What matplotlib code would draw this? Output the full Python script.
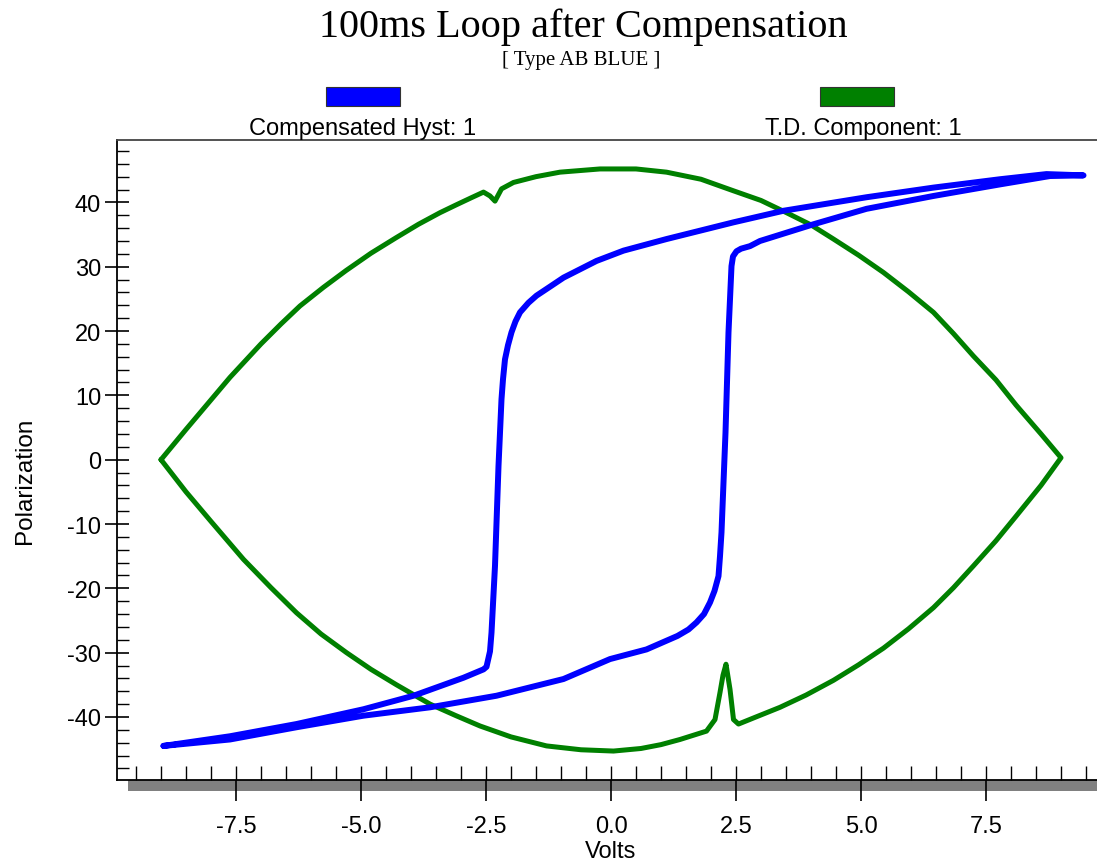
import matplotlib
matplotlib.use("Agg")
import matplotlib.pyplot as plt
from matplotlib.patches import Rectangle
from matplotlib.ticker import MultipleLocator, FormatStrFormatter

plt.rcParams["axes.unicode_minus"] = False

# compensated hysteresis loop (blue), rising branch then falling branch
hyst_up_v = [-8.95, -7.62, -6.29, -4.95, -3.62, -2.29, -0.95, -0.02, 0.71, 1.33, 1.55,
             1.71, 1.86, 1.98, 2.07, 2.15, 2.18, 2.21, 2.29, 2.35, 2.41, 2.44, 2.51, 2.6,
             2.78, 2.98, 4.05, 5.11, 6.45, 7.78, 8.78, 9.45]
hyst_up_p = [-44.5, -43.5, -41.6, -39.8, -38.5, -36.7, -34.1, -31.0, -29.5, -27.4, -26.4,
             -25.3, -24.0, -22.2, -20.4, -18.1, -15.0, -11.3, 4.2, 19.8, 30.1, 31.6, 32.4,
             32.8, 33.2, 34.0, 36.6, 39.0, 41.0, 42.8, 44.1, 44.2]
hyst_down_v = [9.45, 8.71, 7.78, 6.45, 5.11, 3.45, 2.45, 1.11, 0.25, -0.29, -0.95, -1.2,
               -1.49, -1.65, -1.82, -1.91, -1.99, -2.06, -2.12, -2.16, -2.19, -2.25, -2.32,
               -2.39, -2.42, -2.49, -2.55, -2.95, -3.95, -4.95, -6.29, -7.62, -8.95]
hyst_down_p = [44.2, 44.4, 43.6, 42.3, 40.8, 38.7, 36.9, 34.3, 32.5, 30.9, 28.3, 27.0,
               25.5, 24.4, 22.9, 21.5, 19.8, 17.8, 15.6, 12.5, 9.4, -1.0, -16.5,
               -26.9, -29.8, -32.2, -32.6, -33.9, -36.7, -38.8, -41.1, -43.0, -44.5]

# time domain component (green), upper branch then lower branch
td_up_v = [-9.0, -8.5, -8.0, -7.62, -7.0, -6.6, -6.22, -5.75, -5.3, -4.8, -4.3, -3.85,
           -3.42, -3.1, -2.8, -2.55, -2.42, -2.32, -2.19, -1.95, -1.5, -1.02, -0.22, 0.5,
           1.11, 1.8, 2.45, 3.0, 3.51, 4.0, 4.45, 4.95, 5.45, 5.95, 6.45, 6.85, 7.25, 7.7,
           8.1, 8.6, 9.0]
td_up_p = [0.0, 4.7, 9.3, 12.8, 18.0, 21.1, 23.9, 26.8, 29.4, 32.1, 34.5, 36.6,
           38.4, 39.6, 40.7, 41.6, 41.0, 40.2, 42.1, 43.1, 44.0, 44.7, 45.2, 45.2,
           44.7, 43.6, 41.8, 40.3, 38.4, 36.5, 34.3, 31.8, 29.1, 26.1, 22.9, 19.6, 16.1, 12.4,
           8.5, 4.0, 0.3]
td_down_v = [9.0, 8.6, 8.1, 7.7, 7.25, 6.85, 6.45, 5.95, 5.45, 4.95, 4.45, 3.9, 3.38, 2.9,
             2.55, 2.45, 2.38, 2.30, 2.24, 2.18, 2.08, 1.91, 1.38, 1.0, 0.6, 0.05, -0.6,
             -1.29, -2.0, -2.62, -3.1, -3.62, -4.29, -4.8, -5.29, -5.8, -6.29, -6.8, -7.35,
             -8.0, -8.5, -9.0]
td_down_p = [0.3, -4.0, -8.8, -12.6, -16.5, -19.9, -23.0, -26.3, -29.3, -31.9, -34.3, -36.6,
             -38.5, -40.0, -41.1, -40.4, -35.7, -31.8, -33.5, -36.2, -40.4, -42.2, -43.5,
             -44.3, -44.9, -45.3, -45.1, -44.5, -43.1, -41.4, -39.8, -38.0, -35.0, -32.6,
             -30.0, -27.1, -23.8, -19.9, -15.5, -9.6, -5.0, 0.0]

series_names = ["Compensated Hyst: 1", "T.D. Component: 1"]
series_colors = ["#0000ff", "#008000"]

W, H = 1097, 862
fig = plt.figure(figsize=(W / 100, H / 100), dpi=100)
sans = "Liberation Sans"
serif = "Liberation Serif"

def fx(px):
    return px / W

def fy(py):
    return 1 - py / H

ax = fig.add_axes([fx(117), fy(781), 1 - fx(117), fy(141) - fy(781)])
ax.set_facecolor("none")

ax.plot(hyst_up_v + hyst_down_v, hyst_up_p + hyst_down_p, color=series_colors[0],
        lw=4.3, solid_joinstyle="round", solid_capstyle="round", zorder=3)
ax.plot(td_up_v + td_down_v, td_up_p + td_down_p, color=series_colors[1],
        lw=3.6, solid_joinstyle="round", solid_capstyle="round", zorder=2)

ax.set_xlim(-9.88, 9.72)
ax.set_ylim(-49.8, 49.7)

ax.spines["right"].set_visible(False)
for s in ["left", "top", "bottom"]:
    ax.spines[s].set_linewidth(1.3)
ax.spines["top"].set_color("#444444")

# ticks
ax.xaxis.set_major_locator(MultipleLocator(2.5))
ax.xaxis.set_minor_locator(MultipleLocator(0.5))
ax.yaxis.set_major_locator(MultipleLocator(10))
ax.yaxis.set_minor_locator(MultipleLocator(2))
ax.xaxis.remove_overlapping_locs = False
ax.tick_params(axis="x", which="major", direction="out", length=15, width=1.2,
               pad=10, labelsize=17)
ax.tick_params(axis="x", which="minor", direction="in", length=10, width=1.0)
ax.tick_params(axis="y", which="major", direction="inout", length=17, width=1.2,
               pad=3, labelsize=17)
ax.tick_params(axis="y", which="minor", direction="in", length=8.5, width=1.0)
ax.xaxis.set_major_formatter(FormatStrFormatter("%.1f"))
for lab in ax.get_xticklabels() + ax.get_yticklabels():
    lab.set_family(sans)

# gray shadow bar under x axis
fig.patches.append(Rectangle((fx(128), fy(792)), 1 - fx(128), fy(781) - fy(792),
                             transform=fig.transFigure, facecolor="#808080",
                             edgecolor="none", zorder=-1))

# titles
fig.text(fx(583), fy(27), "100ms Loop after Compensation", family=serif,
         fontsize=29, ha="center", va="center")
fig.text(fx(581), fy(61), "[ Type AB BLUE ]", family=serif, fontsize=15,
         ha="center", va="center")

# legend boxes above plot
box_x = [326, 820]
label_x = [363, 863]
for i in range(2):
    fig.patches.append(Rectangle((fx(box_x[i]), fy(107)), fx(74), fy(88) - fy(107),
                                 transform=fig.transFigure, facecolor=series_colors[i],
                                 edgecolor="#333333", lw=0.8))
    fig.text(fx(label_x[i]), fy(129), series_names[i], family=sans, fontsize=17,
             ha="center", va="center")

fig.text(fx(611), fy(852), "Volts", family=sans, fontsize=17, ha="center", va="center")
fig.text(fx(25), fy(481), "Polarization", family=sans, fontsize=17.5, ha="center",
         va="center", rotation=90)

fig.savefig("out.png", dpi=100)
